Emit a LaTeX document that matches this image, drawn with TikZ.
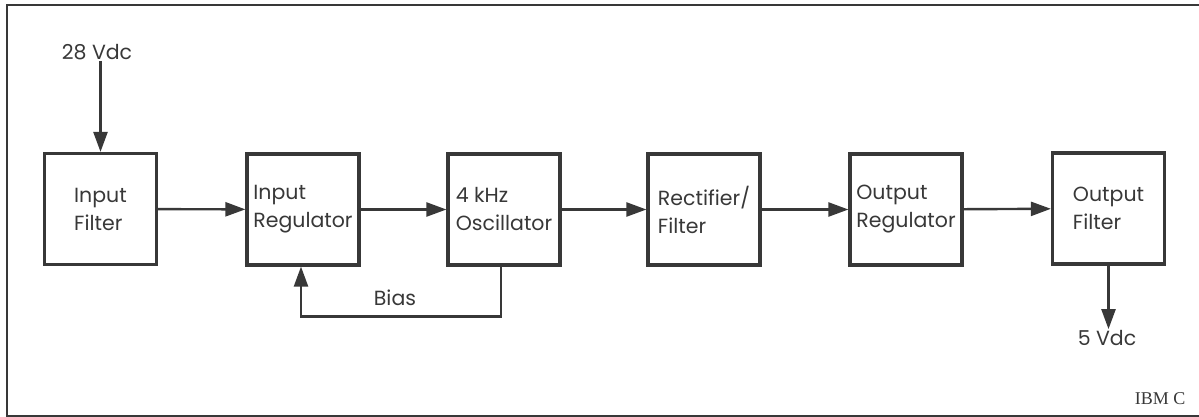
\documentclass[tikz,border=0pt]{standalone}
\usepackage{fontspec}
\setmainfont{Poppins}
\newfontfamily\tagfont{Liberation Serif}
\usepackage{tikz}
\usetikzlibrary{arrows.meta}
\definecolor{ink}{HTML}{383838}
\tikzset{
  stagebox/.style={draw=ink, line width=3.2pt, minimum width=112pt, minimum height=111pt,
    align=left, inner sep=2pt, text=ink, font=\fontsize{20.5}{28}\selectfont},
  sigline/.style={draw=ink, line width=2.4pt, -{Triangle[length=20pt,width=14pt]}},
  siglabel/.style={text=ink, font=\fontsize{20.5}{24}\selectfont, inner sep=1pt},
}

\begin{document}
\begin{tikzpicture}[x=1pt, y=-1pt]
  \useasboundingbox (0,0) rectangle (1199,417);
  % frame
  \draw[ink, line width=2.8pt] (1210,5) -- (7,5) -- (7,416) -- (1210,416);
  % stages
  \node[stagebox] (infilt) at (100.5,209) {Input\\Filter};
  \node[stagebox] (inreg)  at (303,209.5) {Input\\Regulator};
  \node[stagebox] (osc)    at (504,209.5) {4 kHz\\Oscillator};
  \node[stagebox] (rect)   at (704,209.5) {Rectifier/\\Filter};
  \node[stagebox] (outreg) at (906,209.5) {Output\\Regulator};
  \node[stagebox] (outfilt) at (1108.5,208.5) {Output\\Filter};
  % supply in and out
  \node[siglabel] (vin)  at (97,52) {28 Vdc};
  \node[siglabel] (vout) at (1107,338) {5 Vdc};
  \draw[sigline] (vin.south -| infilt.north) -- (infilt.north);
  \draw[sigline] (outfilt.south) -- (outfilt.south |- vout.north);
  % forward chain
  \draw[sigline] (infilt) -- (inreg);
  \draw[sigline] (inreg) -- (osc);
  \draw[sigline] (osc) -- (rect);
  \draw[sigline] (rect) -- (outreg);
  \draw[sigline] (outreg) -- (outfilt);
  % bias feedback
  \draw[sigline] ([xshift=-3pt]osc.south) -- ++(0,50) -| ([xshift=-2pt]inreg.south);
  \node[siglabel] (bias) at (395,298) {Bias};
  \node[text=ink, font=\tagfont\fontsize{18}{20}\selectfont, inner sep=0pt] (tag) at (1160,399) {IBM C};
\end{tikzpicture}
\end{document}
